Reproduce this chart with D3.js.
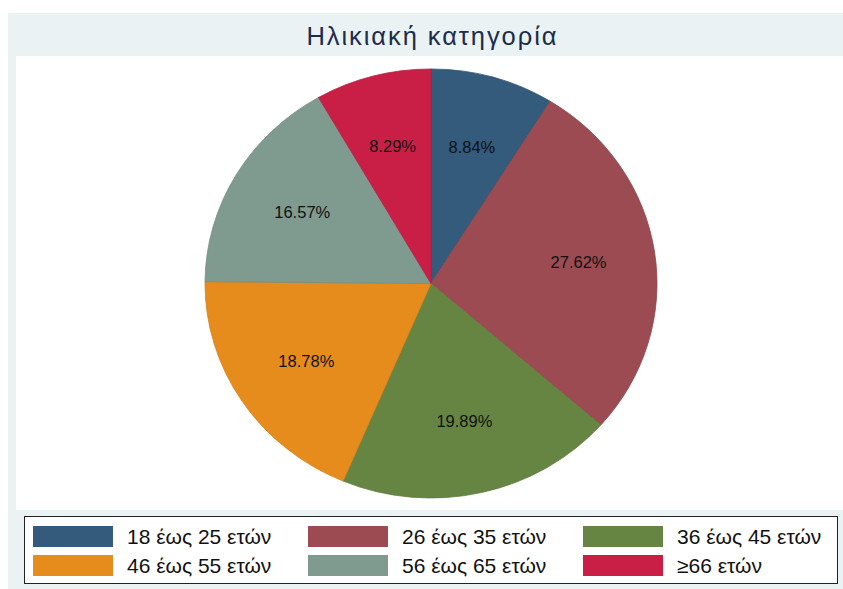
<!DOCTYPE html>
<html>
<head>
<meta charset="utf-8">
<script src="https://cdn.jsdelivr.net/npm/d3@7"></script>
<style>
    body { margin: 0; background: #ffffff; }
    svg text { font-family: "Liberation Sans", Arial, sans-serif; }
</style>
</head>
<body>
<div id="chart"></div>
<script>
// data
const categories = ["18 έως 25 ετών", "26 έως 35 ετών", "36 έως 45 ετών", "46 έως 55 ετών", "56 έως 65 ετών", "≥66 ετών"];
const shares = [8.84, 27.62, 19.89, 18.78, 16.57, 8.29];
const sliceColors = ["#345a7c", "#9b4b51", "#678542", "#e68c1d", "#7f9a8f", "#c91f47"];
const titleText = "Ηλικιακή κατηγορία";

const width = 843, height = 589;

let svg = d3.select("#chart")
    .append("svg")
    .attr("width", width)
    .attr("height", height);

// outer frame (light blue-gray)
svg.append("rect")
    .attr("x", 8).attr("y", 13)
    .attr("width", width - 8).attr("height", height - 13)
    .attr("fill", "#eaf2f3");

// plot region
svg.append("rect")
    .attr("x", 16).attr("y", 56)
    .attr("width", width - 16).attr("height", 454)
    .attr("fill", "#ffffff");

svg.append("text")
    .attr("x", 431.5).attr("y", 45)
    .attr("text-anchor", "middle")
    .attr("font-size", 25.5)
    .attr("textLength", 250)
    .attr("lengthAdjust", "spacing")
    .attr("fill", "#1c2c4c")
    .text(titleText);

// pie (the original is slightly squashed vertically)
const cx = 431, cy = 283.5, radiusX = 226, radiusY = 214.5;
const yScale = radiusY / radiusX;

let pie = d3.pie().sort(null).value(d => d);
let arc = d3.arc().innerRadius(0).outerRadius(radiusX);
let labelArc = d3.arc().innerRadius(radiusX * 0.66).outerRadius(radiusX * 0.66);

let arcs = pie(shares);

let pieGroup = svg.append("g")
    .attr("transform", `translate(${cx}, ${cy}) scale(1, ${yScale})`);

pieGroup.selectAll("path")
    .data(arcs)
    .enter()
    .append("path")
    .attr("d", arc)
    .attr("fill", (d, i) => sliceColors[i])
    .attr("stroke", (d, i) => d3.color(sliceColors[i]).darker(0.25))
    .attr("stroke-width", 0.8);

svg.append("g")
    .attr("transform", `translate(${cx}, ${cy})`)
    .selectAll("text")
    .data(arcs)
    .enter()
    .append("text")
    .attr("transform", function (d) {
        let c = labelArc.centroid(d);
        return `translate(${c[0]}, ${c[1] * yScale})`;
    })
    .attr("text-anchor", "middle")
    .attr("dy", "0.35em")
    .attr("font-size", 16.5)
    .attr("fill", "#111111")
    .text(d => d3.format(".2f")(d.data) + "%");

// legend
let legend = svg.append("g");
legend.append("rect")
    .attr("x", 24.5).attr("y", 516.5)
    .attr("width", 813).attr("height", 67)
    .attr("fill", "#ffffff")
    .attr("stroke", "#222222")
    .attr("stroke-width", 1);

const colX = [33, 308, 583];
const rowY = [526, 555];

categories.forEach(function (c, i) {
    let col = i % 3, row = Math.floor(i / 3);
    legend.append("rect")
        .attr("x", colX[col]).attr("y", rowY[row])
        .attr("width", 80).attr("height", 21)
        .attr("fill", sliceColors[i]);
    legend.append("text")
        .attr("x", colX[col] + 94).attr("y", rowY[row] + 18)
        .attr("font-size", 21)
        .attr("fill", "#111111")
        .text(c);
});
</script>
</body>
</html>
